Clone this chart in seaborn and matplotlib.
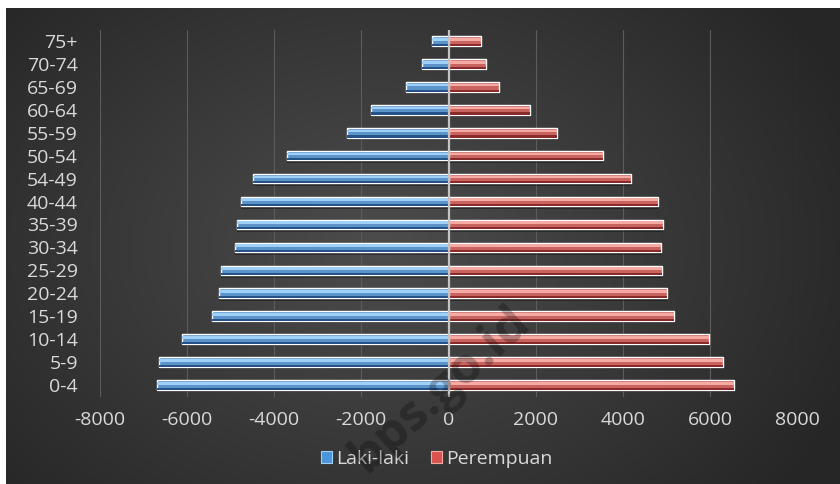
import numpy as np
import pandas as pd
import matplotlib
matplotlib.use("Agg")
import matplotlib.pyplot as plt
from matplotlib.patches import Rectangle, Patch
import seaborn as sns

# Population by age group (top row of the pyramid first)
age_groups = ["75+", "70-74", "65-69", "60-64", "55-59", "50-54", "54-49", "40-44",
              "35-39", "30-34", "25-29", "20-24", "15-19", "10-14", "5-9", "0-4"]
laki_laki = [390, 600, 970, 1790, 2330, 3700, 4490, 4760,
             4850, 4890, 5220, 5260, 5430, 6120, 6640, 6690]
perempuan = [735, 870, 1150, 1860, 2480, 3540, 4200, 4800,
             4920, 4870, 4890, 5010, 5170, 5980, 6300, 6550]
series_names = ["Laki-laki", "Perempuan"]
x_ticks = [-8000, -6000, -4000, -2000, 0, 2000, 4000, 6000, 8000]

df = pd.DataFrame({
    "age": age_groups * 2,
    "value": [-v for v in laki_laki] + perempuan,
    "sex": [series_names[0]] * len(age_groups) + [series_names[1]] * len(age_groups),
})

sns.set_theme(style="dark")
plt.rcParams["font.family"] = ["Open Sans", "DejaVu Sans"]

W, H = 840, 484
fig = plt.figure(figsize=(W / 100, H / 100), dpi=100, facecolor="white")

# Dark radial-gradient backdrop inside a thin white frame
bg = fig.add_axes([6 / W, 0, (W - 6) / W, (H - 8) / H], zorder=0)
bh, bw = H - 8, W - 6
yy, xx = np.mgrid[0:bh, 0:bw]
r = np.sqrt(((xx - 0.45 * bw) / (0.62 * bw)) ** 2 + ((yy - 0.5 * bh) / (0.8 * bh)) ** 2)
shade = 0.15 + 0.15 * np.clip(1 - r, 0, 1)
bg.imshow(np.dstack([shade] * 3), aspect="auto", interpolation="bilinear")
bg.axis("off")

ax = fig.add_axes([100 / W, (H - 396.5) / H, 697 / W, 367 / H], zorder=1)
ax.set_facecolor("none")

base_colors = {"Laki-laki": "#4a95dc", "Perempuan": "#d9534f"}
light_colors = {"Laki-laki": "#9fd0f7", "Perempuan": "#f5aaa4"}
dark_colors = {"Laki-laki": "#24538a", "Perempuan": "#8a2b2b"}

sns.barplot(data=df, y="age", x="value", hue="sex", order=age_groups,
            hue_order=series_names, palette=base_colors, dodge=False,
            width=0.42, orient="h", legend=False, ax=ax, zorder=3)

# Bevel shading on each bar, taken from the bars seaborn drew
bars = [p for p in ax.patches if isinstance(p, Rectangle) and p.get_height() > 0]
for p in bars:
    x0, y0, w, h = p.get_x(), p.get_y(), p.get_width(), p.get_height()
    name = series_names[0] if (x0 + w / 2) < 0 else series_names[1]
    ax.add_patch(Rectangle((x0, y0 + h * 0.95), w, h * 0.3, color="black",
                           alpha=0.35, lw=0, zorder=2))
    ax.add_patch(Rectangle((x0, y0 + h * 0.18), w, h * 0.28,
                           color=light_colors[name], lw=0, zorder=4))
    ax.add_patch(Rectangle((x0, y0 + h * 0.78), w, h * 0.22,
                           color=dark_colors[name], lw=0, zorder=4))

ax.set_xlim(-8000, 8000)
ax.set_ylim(len(age_groups) - 0.5, -0.5)
ax.set_xticks(x_ticks)
ax.set_xticklabels([str(t) for t in x_ticks])
ax.grid(axis="x", color="#5c5c5c", lw=0.8, zorder=1)
ax.grid(axis="y", visible=False)
ax.axvline(0, color="#c4c4c4", lw=1.6, zorder=5)
for s in ax.spines.values():
    s.set_visible(False)
ax.tick_params(axis="both", length=0, colors="#d9d9d9", labelsize=14)
ax.tick_params(axis="y", pad=16)
ax.tick_params(axis="x", pad=10.5)
ax.set_xlabel("")
ax.set_ylabel("")

handles = [Patch(facecolor=base_colors[n], edgecolor=light_colors[n], lw=0.8) for n in series_names]
fig.legend(handles, series_names, loc="center", bbox_to_anchor=(0.52, (H - 459) / H),
           ncol=2, frameon=False, fontsize=14, labelcolor="#d9d9d9",
           handlelength=0.55, handleheight=0.55, handletextpad=0.25, columnspacing=1.1)

fig.text(440 / W, 1 - 390 / H, "bps.go.id", rotation=42, fontsize=36,
         fontweight="bold", color="black", alpha=0.26, ha="center", va="center", zorder=6)

fig.savefig("out.png", dpi=100, facecolor="white")
